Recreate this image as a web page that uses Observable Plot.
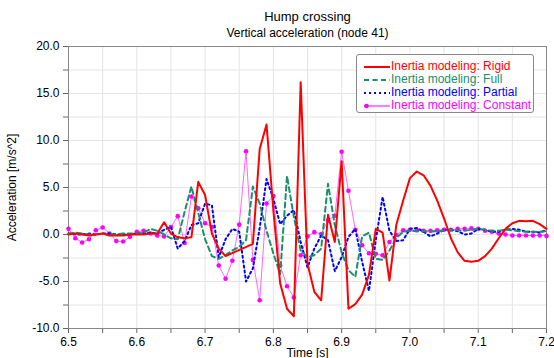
<!DOCTYPE html>
<html><head><meta charset="utf-8">
<script src="https://cdn.jsdelivr.net/npm/d3@7"></script>
<script src="https://cdn.jsdelivr.net/npm/@observablehq/plot@0.6"></script>
<style>
body{margin:0;background:#fff;font-family:"Liberation Sans",Arial,sans-serif;}
#wrap{position:relative;width:554px;height:358px;overflow:hidden;}
#titles{padding-top:8px;height:30px;margin-left:68px;width:479px;text-align:center;color:#000;}
#t1{font-size:13px;line-height:17px;}
#t2{font-size:12px;line-height:17px;}
#legend{position:absolute;left:356px;top:54px;width:178px;height:59px;border:1px solid #888;border-radius:3px;background:#fff;padding-top:5px;box-sizing:border-box;}
.row{height:13px;line-height:13px;font-size:12px;white-space:nowrap;display:flex;align-items:center;}
.row svg{margin-left:7px;margin-right:1px;}
</style></head>
<body><div id="wrap">
<div id="titles"><div id="t1">Hump crossing</div><div id="t2">Vertical acceleration (node 41)</div></div>
<div id="chart"></div>
<div id="legend"></div>
</div>
<script>
// time bases
const tRigid = [6.50,6.51,6.52,6.53,6.54,6.55,6.56,6.57,6.58,6.59,6.60,6.61,6.62,6.63,6.64,6.65,6.66,6.67,6.68,6.69,6.70,6.71,6.72,6.73,
  6.77,6.78,6.79,6.80,6.81,6.82,6.83,6.84,6.85,6.86,6.87,6.88,6.89,6.90,6.91,6.92,6.93,6.94,6.95,6.96,6.97,6.98,6.99,
  7.00,7.01,7.02,7.03,7.04,7.05,7.06,7.07,7.08,7.09,7.10,7.11,7.12,7.13,7.14,7.15,7.16,7.17,7.18,7.19,7.20];
const rigid = [0.0,0.1,0.0,-0.1,0.0,0.1,-0.1,-0.1,-0.1,0.0,0.0,0.0,0.1,0.1,1.3,0.1,-0.3,-0.4,-0.3,5.6,4.2,0.1,-1.5,-2.3,
  -1.0,9.1,11.7,2.6,-5.2,-7.9,-8.7,16.2,-3.1,-6.1,-7.0,2.1,-0.8,7.8,-7.9,-7.4,-6.4,-4.3,0.6,0.2,-4.9,1.0,3.6,
  6.0,6.7,6.3,5.2,3.6,1.7,-0.4,-1.9,-2.8,-2.9,-2.8,-2.3,-1.5,-0.4,0.6,1.2,1.45,1.4,1.45,1.1,0.6];

const tStep = [6.50,6.51,6.52,6.53,6.54,6.55,6.56,6.57,6.58,6.59,6.60,6.61,6.62,6.63,6.64,6.65,6.66,6.67,6.68,6.69,
  6.70,6.71,6.72,6.73,6.74,6.75,6.76,6.77,6.78,6.79,6.80,6.81,6.82,6.83,6.84,6.85,6.86,6.87,6.88,6.89,
  6.90,6.91,6.92,6.93,6.94,6.95,6.96,6.97,6.98,6.99,7.00,7.01,7.02,7.03,7.04,7.05,7.06,7.07,7.08,7.09,
  7.10,7.11,7.12,7.13,7.14,7.15,7.16,7.17,7.18,7.19,7.20];
const full = [0.1,0.2,0.1,0.0,0.0,0.1,0.0,0.0,0.1,0.1,0.1,0.2,0.6,0.4,0.0,-0.4,-0.5,2.4,5.1,2.3,
  -0.5,-2.3,-2.6,-2.2,-1.7,-1.3,-0.6,5.1,3.3,0.4,-2.0,-4.2,6.2,1.9,-1.7,-2.4,-2.2,-1.5,5.4,1.0,
  -1.9,-3.8,-4.5,-0.2,0.2,-2.6,-2.7,-1.7,-0.4,0.3,0.4,0.35,0.35,0.3,0.35,0.4,0.5,0.45,0.4,0.5,
  0.6,0.5,0.4,0.4,0.5,0.45,0.35,0.3,0.3,0.3,0.35];
const partial = [0.1,0.0,0.0,0.1,0.0,0.1,0.1,0.0,0.0,0.0,0.1,0.1,0.2,0.1,0.5,0.8,-1.5,-0.7,1.0,1.2,
  3.3,3.1,-2.4,-0.5,0.6,0.3,-5.0,-3.6,0.7,5.9,3.8,1.1,2.0,2.6,-0.8,-3.5,-1.5,-0.1,-0.6,-3.9,
  -2.4,-0.25,0.6,-2.9,-6.0,-0.6,4.0,0.4,-0.7,-0.6,0.6,0.7,0.3,-0.2,0.1,0.5,0.5,0.35,0.0,0.1,
  0.6,0.5,0.3,0.3,0.5,0.6,0.5,0.3,0.3,0.2,0.5];
const constant = [0.6,-0.4,-0.85,-0.5,0.45,0.75,0.1,-0.7,-0.75,-0.25,0.3,0.4,0.1,-0.1,-0.2,0.8,1.95,-0.9,4.05,2.8,
  1.2,0.8,-3.3,-4.7,-2.8,1.05,8.85,-2.7,-7.0,3.3,4.1,-3.3,-5.5,-6.7,-2.2,-0.2,0.25,0.05,1.5,2.0,
  8.8,4.65,0.5,-1.15,-2.0,-2.05,-2.2,-0.8,-0.05,0.45,0.5,0.45,0.4,0.4,0.45,0.5,0.5,0.6,0.6,0.65,
  0.6,0.4,0.3,0.1,0.0,-0.1,-0.1,-0.1,-0.1,-0.1,-0.15];

const seriesNames = ["Inertia modeling: Rigid","Inertia modeling: Full","Inertia modeling: Partial","Inertia modeling: Constant"];
const xTickValues = [6.50,6.55,6.60,6.65,6.70,6.75,6.80,6.85,6.90,6.95,7.00,7.05,7.10,7.15,7.20];
const yTickValues = [-10,-7.5,-5,-2.5,0,2.5,5,7.5,10,12.5,15,17.5,20];

const colors = ["#ff0000","#1a8f6c","#0000ff","#ff00ff"];
const zip = (ts, vs) => ts.map((t, i) => ({t, v: vs[i]}));
const dRigid = zip(tRigid, rigid), dFull = zip(tStep, full), dPartial = zip(tStep, partial), dConst = zip(tStep, constant);

const chart = Plot.plot({
  width: 554, height: 320,
  marginLeft: 68, marginRight: 8, marginTop: 8, marginBottom: 30,
  style: {fontFamily: "'Liberation Sans', Arial, sans-serif", fontSize: "12px", color: "#000", background: "#fff", overflow: "visible"},
  x: {domain: [6.5, 7.2]},
  y: {domain: [-10, 20]},
  marks: [
    Plot.gridX(xTickValues, {stroke: "#e4e4e4", strokeOpacity: 1}),
    Plot.gridY(yTickValues, {stroke: "#e4e4e4", strokeOpacity: 1}),
    Plot.axisX(xTickValues, {tickSize: 5, stroke: "#666", tickFormat: (d, i) => i % 2 === 0 ? d.toFixed(1) : "",
      label: "Time [s]", labelAnchor: "center", labelArrow: "none", labelOffset: 28, fill: "#000"}),
    Plot.axisY(yTickValues, {tickSize: 5, stroke: "#666", tickFormat: d => d % 5 === 0 ? d.toFixed(1) : "",
      label: "Acceleration [m/s^2]", labelAnchor: "center", labelArrow: "none", labelOffset: 61, fill: "#000"}),
    Plot.frame({stroke: "#888"}),
    Plot.line(dConst, {x: "t", y: "v", stroke: colors[3], strokeWidth: 1, strokeOpacity: 0.6}),
    Plot.dot(dConst, {x: "t", y: "v", r: 2.3, fill: colors[3], stroke: "none"}),
    Plot.line(dPartial, {x: "t", y: "v", stroke: colors[2], strokeWidth: 2, strokeDasharray: "2,3"}),
    Plot.line(dFull, {x: "t", y: "v", stroke: colors[1], strokeWidth: 2, strokeDasharray: "5,3.5"}),
    Plot.line(dRigid, {x: "t", y: "v", stroke: colors[0], strokeWidth: 2})
  ]
});
document.getElementById("chart").appendChild(chart);

const dashes = ["none", "5,3.5", "2,3", "none"];
const legend = document.getElementById("legend");
seriesNames.forEach((name, i) => {
  const row = document.createElement("div");
  row.className = "row";
  row.style.color = colors[i];
  const w = i === 3 ? 1 : 2;
  let svg = `<svg width="26" height="8"><line x1="0" x2="26" y1="4" y2="4" stroke="${colors[i]}" stroke-width="${w}" stroke-dasharray="${dashes[i]}"/>`;
  if (i === 3) svg += `<circle cx="2.5" cy="4" r="2.3" fill="${colors[i]}"/>`;
  svg += `</svg>`;
  row.innerHTML = svg + `<span>${name}</span>`;
  legend.appendChild(row);
});
</script>
</body></html>
